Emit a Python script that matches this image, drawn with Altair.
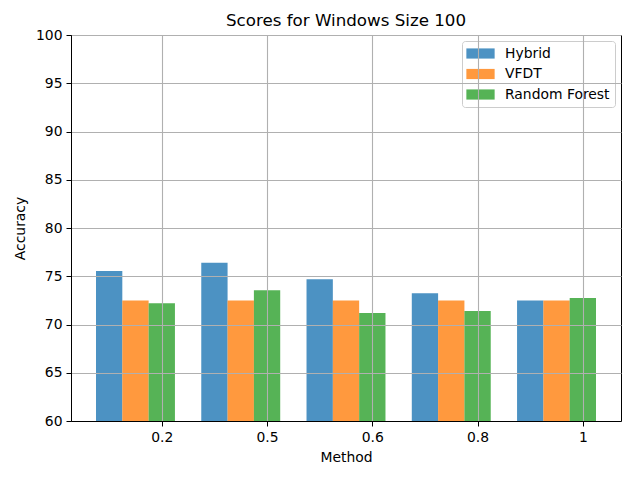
import json
import altair as alt
import pandas as pd

methods = ["0.2", "0.5", "0.6", "0.8", "1"]
series = ["Hybrid", "VFDT", "Random Forest"]
hybrid = [75.55, 76.4, 74.7, 73.25, 72.5]
vfdt = [72.5, 72.5, 72.5, 72.5, 72.5]
rf = [72.2, 73.55, 71.2, 71.4, 72.75]
colors = ["#1f77b4", "#ff7f0e", "#2ca02c"]
yticks = [60, 65, 70, 75, 80, 85, 90, 95, 100]

rows = []
for k, (name, vals) in enumerate(zip(series, [hybrid, vfdt, rf])):
    for i, v in enumerate(vals):
        rows.append({"series": name, "k": k, "i": i, "method": methods[i], "value": v})
df = pd.DataFrame(rows)

label_expr = json.dumps(methods) + "[round(datum.value - 0.5)]"
font = "DejaVu Sans"

bars = alt.Chart(df).transform_calculate(
    pos="datum.i + datum.k * 0.25",
).transform_calculate(
    x0="datum.pos - 0.125", x1="datum.pos + 0.125"
).mark_bar(opacity=0.8, clip=True).encode(
    x=alt.X("x0:Q",
            scale=alt.Scale(domain=[-0.3625, 4.8625], nice=False, zero=False),
            axis=alt.Axis(values=[0.5, 1.5, 2.5, 3.5, 4.5], labelExpr=label_expr,
                          title="Method", grid=True, zindex=1, titlePadding=7,
                          labelPadding=4)),
    x2="x1:Q",
    y=alt.Y("value:Q",
            scale=alt.Scale(domain=[60, 100], nice=False, zero=False),
            axis=alt.Axis(values=yticks, title="Accuracy", grid=True, zindex=1,
                          titlePadding=8, labelPadding=4)),
    y2=alt.datum(0),
    color=alt.Color("series:N",
                    scale=alt.Scale(domain=series, range=colors),
                    sort=series,
                    legend=alt.Legend(title=None, orient="top-right", offset=6,
                                      symbolType="M-2,-0.72L2,-0.72L2,0.72L-2,0.72Z",
                                      symbolSize=200, symbolOpacity=0.8,
                                      symbolOffset=6,
                                      strokeColor="#cccccc", fillColor="white",
                                      cornerRadius=3, padding=5, rowPadding=5.5,
                                      labelFontSize=13.9, labelFont=font,
                                      labelColor="black", symbolStrokeWidth=0,
                                      labelOffset=17)),
)

chart = bars.properties(
    width=550, height=386,
    title=alt.TitleParams("Scores for Windows Size 100", fontSize=16.7,
                          font=font, fontWeight="normal", offset=8, dy=10,
                          color="black"),
    autosize=alt.AutoSizeParams(type="none"),
    padding={"left": 63, "top": 27, "right": 5, "bottom": 50},
).configure_view(
    stroke="black", strokeWidth=1
).configure_axis(
    domainColor="black", tickColor="black", tickSize=5, labelFontSize=13.9,
    titleFontSize=13.9, labelFont=font, titleFont=font, labelColor="black",
    titleColor="black", titleFontWeight="normal", gridColor="#b0b0b0", gridWidth=1.1,
    domainWidth=1,
)

chart.save("out.html", embed_options={"renderer": "svg", "actions": False})
